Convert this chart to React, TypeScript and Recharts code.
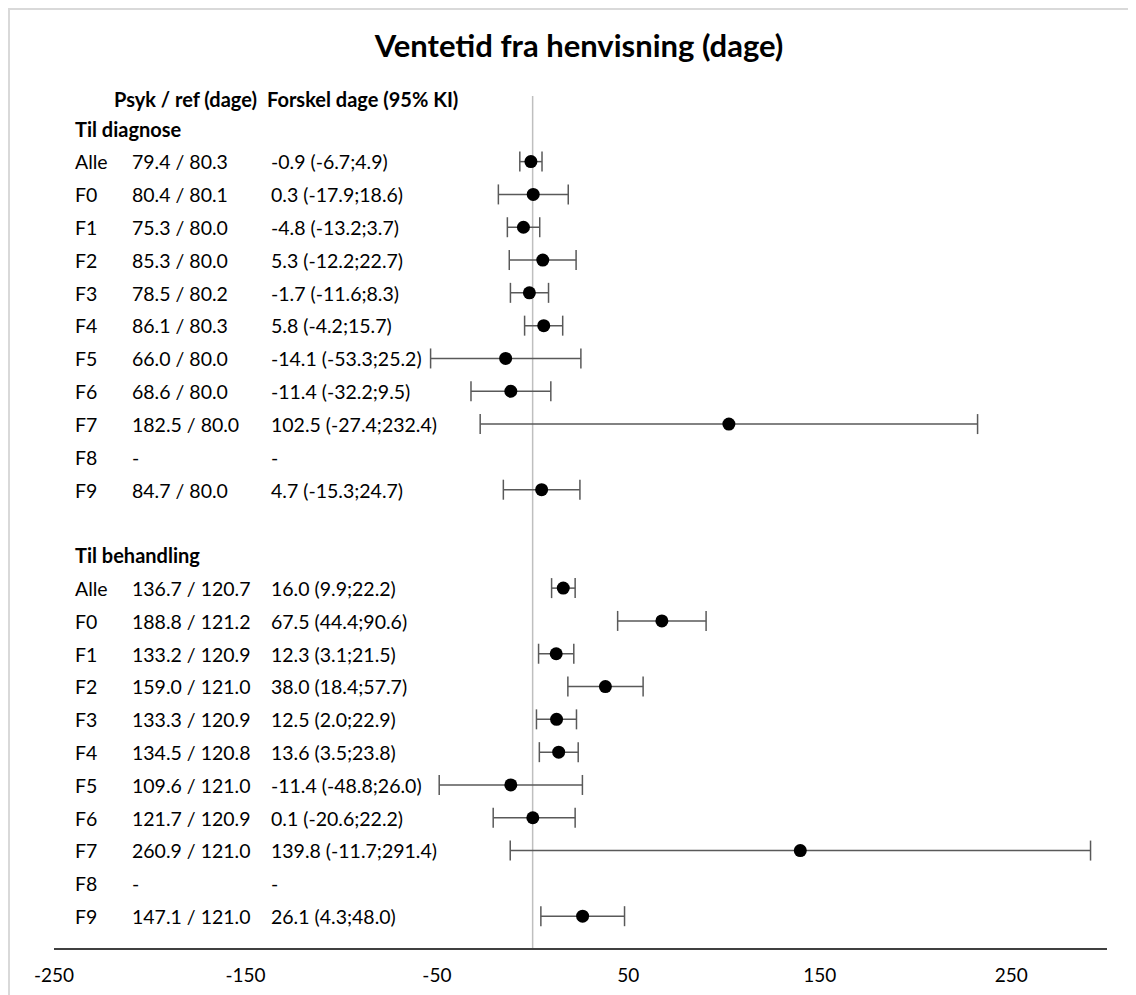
import { ScatterChart, Scatter, XAxis, YAxis, ErrorBar, ReferenceLine } from 'recharts';

const codes = ['Alle', 'F0', 'F1', 'F2', 'F3', 'F4', 'F5', 'F6', 'F7', 'F8', 'F9'];

// Til diagnose
const diagPsyk = [79.4, 80.4, 75.3, 85.3, 78.5, 86.1, 66.0, 68.6, 182.5, null, 84.7];
const diagRef = [80.3, 80.1, 80.0, 80.0, 80.2, 80.3, 80.0, 80.0, 80.0, null, 80.0];
const diagDiff = [-0.9, 0.3, -4.8, 5.3, -1.7, 5.8, -14.1, -11.4, 102.5, null, 4.7];
const diagLow = [-6.7, -17.9, -13.2, -12.2, -11.6, -4.2, -53.3, -32.2, -27.4, null, -15.3];
const diagHigh = [4.9, 18.6, 3.7, 22.7, 8.3, 15.7, 25.2, 9.5, 232.4, null, 24.7];

// Til behandling
const behPsyk = [136.7, 188.8, 133.2, 159.0, 133.3, 134.5, 109.6, 121.7, 260.9, null, 147.1];
const behRef = [120.7, 121.2, 120.9, 121.0, 120.9, 120.8, 121.0, 120.9, 121.0, null, 121.0];
const behDiff = [16.0, 67.5, 12.3, 38.0, 12.5, 13.6, -11.4, 0.1, 139.8, null, 26.1];
const behLow = [9.9, 44.4, 3.1, 18.4, 2.0, 3.5, -48.8, -20.6, -11.7, null, 4.3];
const behHigh = [22.2, 90.6, 21.5, 57.7, 22.9, 23.8, 26.0, 22.2, 291.4, null, 48.0];

const xTicks = [-250, -150, -50, 50, 150, 250];

const FONT = 'Lato, "Open Sans", sans-serif';

type Row = { kind: 'header' | 'group' | 'item' | 'blank'; text?: string; code?: string; psykRef?: string; diff?: string };

const fmt = (v: number) => v.toFixed(1);

function buildRows(psyk: any[], ref: any[], diff: any[], lo: any[], hi: any[]): Row[] {
    return codes.map((c, i) => ({
        kind: 'item',
        code: c,
        psykRef: psyk[i] == null ? '-' : `${fmt(psyk[i])} / ${fmt(ref[i])}`,
        diff: diff[i] == null ? '-' : `${fmt(diff[i])} (${fmt(lo[i])};${fmt(hi[i])})`,
    }));
}

const rows: Row[] = [
    { kind: 'header' },
    { kind: 'group', text: 'Til diagnose' },
    ...buildRows(diagPsyk, diagRef, diagDiff, diagLow, diagHigh),
    { kind: 'blank' },
    { kind: 'group', text: 'Til behandling' },
    ...buildRows(behPsyk, behRef, behDiff, behLow, behHigh),
];

function points(diff: any[], lo: any[], hi: any[], start: number) {
    const out: any[] = [];
    diff.forEach((d, i) => {
        if (d == null) return;
        out.push({ x: d, y: start + i, err: [d - lo[i], hi[i] - d] });
    });
    return out;
}

const diagPoints = points(diagDiff, diagLow, diagHigh, 2);
const behPoints = points(behDiff, behLow, behHigh, 15);

const rowTicks = rows.map((_, i) => i);

function RowTick(props: any) {
    const { y, payload } = props;
    const row = rows[payload.value];
    if (!row) return <g />;
    const base = { fontFamily: FONT, fontSize: 19.5, fill: '#000', dy: '0.35em' };
    if (row.kind === 'header') {
        return (
            <g>
                <text {...base} fontSize={20} x={104} y={y + 4} fontWeight="bold">Psyk / ref (dage)</text>
                <text {...base} fontSize={20} x={257} y={y + 4} fontWeight="bold">Forskel dage (95% KI)</text>
            </g>
        );
    }
    if (row.kind === 'group') {
        return <text {...base} fontSize={20} x={65} y={y + 1} fontWeight="bold">{row.text}</text>;
    }
    if (row.kind === 'item') {
        return (
            <g>
                <text {...base} x={65} y={y + 1}>{row.code}</text>
                <text {...base} x={122} y={y + 1}>{row.psykRef}</text>
                <text {...base} x={261} y={y + 1}>{row.diff}</text>
            </g>
        );
    }
    return <g />;
}

export default function App() {
    return (
        <div style={{ position: 'relative', width: 1126, height: 985, borderTop: '2px solid #d9d9d9', borderLeft: '2px solid #d9d9d9', background: '#fff' }}>
            <div style={{ position: 'absolute', left: 569, top: 16, transform: 'translateX(-50%)', fontFamily: FONT, fontWeight: 'bold', fontSize: 31, whiteSpace: 'nowrap', color: '#000' }}>
                Ventetid fra henvisning (dage)
            </div>
            <ScatterChart width={1126} height={985} margin={{ top: 86, right: 29, bottom: 8, left: 43 }}>
                <XAxis
                    type="number"
                    dataKey="x"
                    domain={[-250, 300]}
                    ticks={xTicks}
                    allowDataOverflow
                    axisLine={{ stroke: '#404040', strokeWidth: 2 }}
                    tickLine={false}
                    tickSize={6}
                    tickMargin={14}
                    height={38}
                    tick={{ fill: '#000', fontSize: 19, fontFamily: FONT }}
                />
                <YAxis
                    type="number"
                    dataKey="y"
                    domain={[0, 26]}
                    reversed
                    ticks={rowTicks}
                    interval={0}
                    width={1}
                    axisLine={false}
                    tickLine={false}
                    tick={(p: any) => <RowTick {...p} />}
                />
                <ReferenceLine x={0} stroke="#bfbfbf" strokeWidth={1.5} />
                <Scatter data={diagPoints} fill="#000" isAnimationActive={false} shape={(p: any) => <circle cx={p.cx} cy={p.cy} r={6.5} fill="#000" />}>
                    <ErrorBar dataKey="err" direction="x" width={10} stroke="#595959" strokeWidth={1.5} isAnimationActive={false} />
                </Scatter>
                <Scatter data={behPoints} fill="#000" isAnimationActive={false} shape={(p: any) => <circle cx={p.cx} cy={p.cy} r={6.5} fill="#000" />}>
                    <ErrorBar dataKey="err" direction="x" width={10} stroke="#595959" strokeWidth={1.5} isAnimationActive={false} />
                </Scatter>
            </ScatterChart>
        </div>
    );
}
